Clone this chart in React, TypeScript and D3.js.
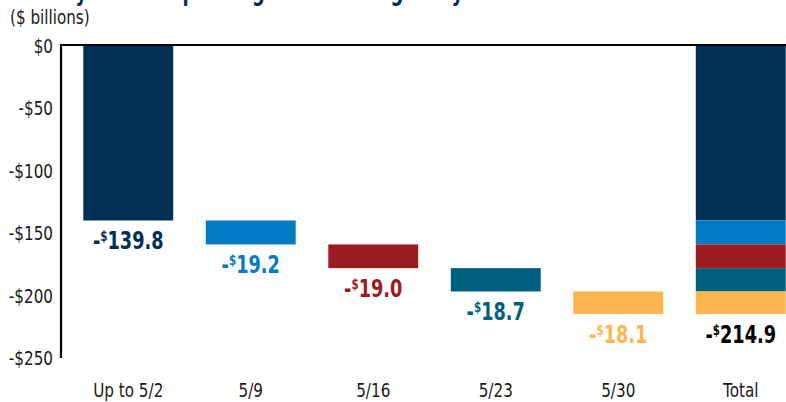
import React from "react";
import * as d3 from "d3";

const categories = ["Up to 5/2", "5/9", "5/16", "5/23", "5/30", "Total"];
const weeklyValues = [-139.8, -19.2, -19.0, -18.7, -18.1];
const totalValue = -214.9;
const valueLabels = ["139.8", "19.2", "19.0", "18.7", "18.1", "214.9"];
const barColors = ["#002F56", "#007BC4", "#9B1B21", "#005E7E", "#FDB64D"];
const yTicks = [0, -50, -100, -150, -200, -250];

const W = 786;
const H = 402;
const FONT = "'DejaVu Sans', sans-serif";

function NText({
  x,
  y,
  sx = 0.8,
  anchor = "start",
  size,
  weight = "normal",
  color = "#1a1a1a",
  children,
}: {
  x: number;
  y: number;
  sx?: number;
  anchor?: string;
  size: number;
  weight?: string;
  color?: string;
  children: React.ReactNode;
}) {
  return (
    <g transform={`translate(${x},${y}) scale(${sx},1)`}>
      <text
        x={0}
        y={0}
        textAnchor={anchor}
        fontFamily={FONT}
        fontSize={size}
        fontWeight={weight}
        fill={color}
      >
        {children}
      </text>
    </g>
  );
}

export default function App() {
  const x = d3
    .scaleBand<string>()
    .domain(categories)
    .range([67, 802])
    .paddingInner(0.266)
    .paddingOuter(0.133);
  const y = d3.scaleLinear().domain([0, -250]).range([46, 358]);

  const segs: { start: number; end: number; color: string }[] = [];
  let acc = 0;
  weeklyValues.forEach((v, i) => {
    segs.push({ start: acc, end: acc + v, color: barColors[i] });
    acc += v;
  });

  const bw = x.bandwidth();
  const axisX = 61;

  const label = (i: number, cx: number, bottom: number, color: string) => (
    <NText
      key={"l" + i}
      x={cx}
      y={bottom + 29}
      sx={0.74}
      anchor="middle"
      size={24}
      weight="bold"
      color={color}
    >
      -<tspan fontSize={14} dy={-8}>$</tspan>
      <tspan dy={8}>{valueLabels[i]}</tspan>
    </NText>
  );

  return (
    <svg
      width={W}
      height={H}
      style={{ position: "absolute", left: 0, top: 0, background: "#fff" }}
    >
      <NText x={14} y={0} size={26} weight="bold" color="#002F56" sx={0.69}>
        Weekly federal spending effect through May 30
      </NText>
      <NText x={10} y={24} size={19}>
        ($ billions)
      </NText>

      {yTicks.map((t) => (
        <NText key={t} x={53} y={y(t) + 7} anchor="end" size={19}>
          {t === 0 ? "$0" : `-$${Math.abs(t)}`}
        </NText>
      ))}

      {segs.map((s, i) => (
        <rect
          key={"b" + i}
          x={x(categories[i])!}
          y={y(s.start)}
          width={bw}
          height={y(s.end) - y(s.start)}
          fill={s.color}
        />
      ))}
      {segs.map((s, i) => (
        <rect
          key={"t" + i}
          x={x("Total")!}
          y={y(s.start)}
          width={bw}
          height={y(s.end) - y(s.start)}
          fill={s.color}
        />
      ))}

      {segs.map((s, i) => label(i, x(categories[i])! + bw / 2, y(s.end), s.color))}
      {label(5, x("Total")! + bw / 2, y(totalValue), "#000")}

      <line x1={axisX} x2={W} y1={45} y2={45} stroke="#000" strokeWidth={2.2} />
      <line x1={axisX} x2={axisX} y1={44} y2={358} stroke="#000" strokeWidth={2.2} />

      {categories.map((c) => (
        <NText key={"x" + c} x={x(c)! + bw / 2} y={397} anchor="middle" size={19}>
          {c}
        </NText>
      ))}
    </svg>
  );
}
